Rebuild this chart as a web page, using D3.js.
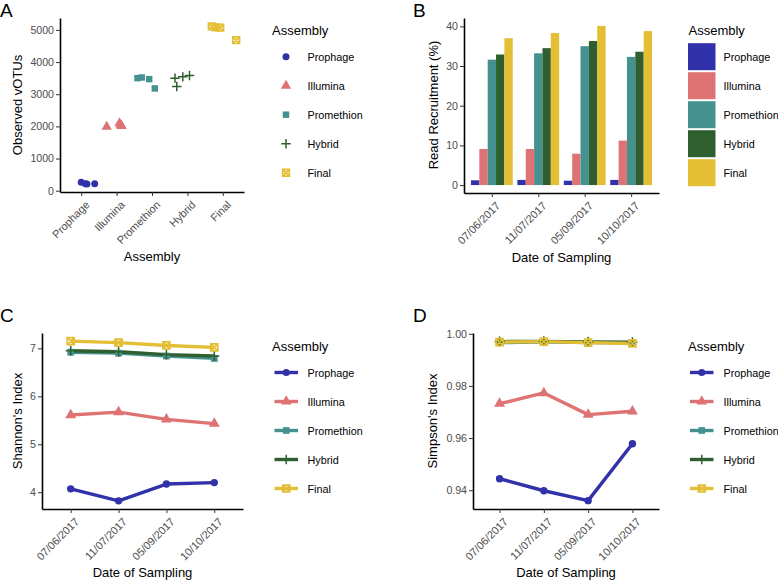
<!DOCTYPE html>
<html lang="en">
<head>
<meta charset="utf-8">
<title>Assembly comparison</title>
<script src="https://d3js.org/d3.v7.min.js"></script>
<style>
    body { margin: 0; background: #fff; }
    text { font-family: "Liberation Sans", Arial, Helvetica, sans-serif; }
</style>
</head>
<body>
<script>
// ---- data ----
var assemblies = ["Prophage", "Illumina", "Promethion", "Hybrid", "Final"];
var colours = ["#3131a9", "#df7373", "#45918f", "#2f5f2f", "#e4be35"];
var dates = ["07/06/2017", "11/07/2017", "05/09/2017", "10/10/2017"];

// A: observed vOTUs, 4 samples per assembly (+ horizontal jitter as drawn)
var votus = [
    [260, 215, 210, 220],
    [1990, 2100, 2040, 2010],
    [3500, 3520, 3470, 3180],
    [3500, 3240, 3540, 3580],
    [5110, 5080, 5070, 4680]
];
var votusJitter = [
    [0.0, 0.12, 0.16, 0.38],
    [-0.28, 0.08, 0.12, 0.14],
    [-0.41, -0.29, -0.08, 0.08],
    [-0.35, -0.30, -0.13, 0.06],
    [-0.31, -0.20, -0.07, 0.38]
];
// B: read recruitment (%) per assembly, one value per date
var recruitment = [
    [1.2, 1.3, 1.1, 1.3],
    [9.1, 9.1, 7.9, 11.2],
    [31.6, 33.2, 35.0, 32.3],
    [32.9, 34.5, 36.3, 33.6],
    [37.0, 38.3, 40.1, 38.8]
];
// C: Shannon's index
var shannon = [
    [4.07, 3.82, 4.17, 4.20],
    [5.61, 5.67, 5.52, 5.43],
    [6.92, 6.90, 6.84, 6.79],
    [6.95, 6.93, 6.87, 6.84],
    [7.15, 7.12, 7.06, 7.02]
];
// D: Simpson's index
var simpson = [
    [0.9444, 0.9398, 0.9360, 0.9578],
    [0.9732, 0.9773, 0.9690, 0.9703],
    [0.9966, 0.9969, 0.9966, 0.9965],
    [0.9970, 0.9971, 0.9969, 0.9968],
    [0.9968, 0.9970, 0.9966, 0.9963]
];

var w = 778, h = 580;
var svg = d3.select("body").append("svg")
    .attr("width", w).attr("height", h);

// ---- symbols ----
function symbolPath(k, s) {
    // s = half size
    if (k == 0) return d3.symbol(d3.symbolCircle, Math.PI * s * s)();
    if (k == 1) return d3.symbol(d3.symbolTriangle, 2.0 * s * s * 1.9)();
    if (k == 2) return d3.symbol(d3.symbolSquare, 4 * s * s * 0.85)();
    if (k == 3) { var p = s * 1.35; return "M" + (-p) + ",0H" + p + "M0," + (-p) + "V" + p; }
    var q = s * 0.95;
    return "M" + (-q) + "," + (-q) + "H" + q + "V" + q + "H" + (-q) + "Z" +
           "M" + (-q) + "," + (-q) + "L" + q + "," + q + "M" + q + "," + (-q) + "L" + (-q) + "," + q;
}
function drawSymbol(g, k, x, y, s) {
    var p = g.append("path").attr("d", symbolPath(k, s))
        .attr("transform", "translate(" + x + "," + y + ")");
    if (k >= 3) {
        p.attr("fill", "none").attr("stroke", colours[k]).attr("stroke-width", k == 3 ? 1.5 : 1.7);
    } else {
        p.attr("fill", colours[k]);
    }
}

// ---- axes in ggplot classic look ----
function drawAxes(x, y, yTicks, yFmt) {
    var r = y.range();
    var gx = svg.append("g").attr("transform", "translate(0," + r[0] + ")")
        .call(d3.axisBottom(x).tickSize(4).tickSizeOuter(0).tickPadding(2));
    var gy = svg.append("g").attr("transform", "translate(" + x.range()[0] + ",0)")
        .call(d3.axisLeft(y).tickValues(yTicks).tickFormat(yFmt).tickSize(4).tickSizeOuter(0).tickPadding(2));
    [gx, gy].forEach(function(g) {
        g.select(".domain").attr("stroke", "#000").attr("stroke-width", 1.6);
        g.selectAll(".tick line").attr("stroke", "#333").attr("stroke-width", 1);
        g.selectAll(".tick text").attr("fill", "#4d4d4d").style("font-size", "10.6px");
    });
    gx.selectAll(".tick text")
        .attr("y", 0).attr("dy", "0.71em")
        .attr("transform", "translate(3,8) rotate(-45)")
        .style("font-size", "10.9px")
        .style("text-anchor", "end");
}

function axisTitles(xt, xc, xb, yt, yx, yc) {
    svg.append("text").attr("x", xc).attr("y", xb).attr("text-anchor", "middle")
        .style("font-size", "13px").text(xt);
    svg.append("text").attr("transform", "translate(" + yx + "," + yc + ") rotate(-90)")
        .attr("text-anchor", "middle").style("font-size", "13px").text(yt);
}

function panelLabel(t, x, y) {
    svg.append("text").attr("x", x).attr("y", y).style("font-size", "19px").text(t);
}

// legend: type "point", "bar" or "line"
function legend(type, tx, ty, kx, ky, lx) {
    var g = svg.append("g");
    g.append("text").attr("x", tx).attr("y", ty).style("font-size", "13px").text("Assembly");
    assemblies.forEach(function(a, k) {
        var cy = ky + k * 29;
        if (type == "bar") {
            g.append("rect").attr("x", kx).attr("y", cy - 13.5).attr("width", 27.5).attr("height", 27)
                .attr("fill", colours[k]);
        } else if (type == "line") {
            g.append("line").attr("x1", kx).attr("x2", kx + 23.5).attr("y1", cy).attr("y2", cy)
                .attr("stroke", colours[k]).attr("stroke-width", 3.4);
            drawSymbol(g, k, kx + 11.75, cy, 3.6);
        } else {
            drawSymbol(g, k, kx, cy, 3.5);
        }
        g.append("text").attr("x", lx).attr("y", cy + 4).style("font-size", "10.8px").text(a);
    });
}

// ================= A =================
var xA = d3.scalePoint().domain(assemblies).range([60, 244]).padding(0.6);
var yA = d3.scaleLinear().domain([-40, 5370]).range([192, 18]);
drawAxes(xA, yA, [0, 1000, 2000, 3000, 4000, 5000], d3.format("d"));
var gA = svg.append("g");
assemblies.forEach(function(a, k) {
    votus[k].forEach(function(v, i) {
        drawSymbol(gA, k, xA(a) + votusJitter[k][i] * xA.step(), yA(v), 3.5);
    });
});
axisTitles("Assembly", 152, 261, "Observed vOTUs", 22, 105);
panelLabel("A", 0, 17);
legend("point", 272, 34.5, 286, 56.7, 307.5);

// ================= B =================
var xB = d3.scalePoint().domain(dates).range([464, 659]).padding(0.6);
var yB = d3.scaleLinear().domain([-2.0, 42.1]).range([193, 18]);
var xBar = d3.scaleBand().domain(assemblies).range([-0.45, 0.45]);
var gB = svg.append("g");
dates.forEach(function(dt, i) {
    gB.selectAll(null).data(assemblies).enter().append("rect")
        .attr("x", function(a) { return xB(dt) + xBar(a) * xB.step(); })
        .attr("width", xBar.bandwidth() * xB.step())
        .attr("y", function(a, k) { return yB(recruitment[k][i]); })
        .attr("height", function(a, k) { return yB(0) - yB(recruitment[k][i]); })
        .attr("fill", function(a, k) { return colours[k]; });
});
drawAxes(xB, yB, [0, 10, 20, 30, 40], d3.format("d"));
axisTitles("Date of Sampling", 561.5, 261.5, "Read Recruitment (%)", 437.5, 105);
panelLabel("B", 413, 17);
legend("bar", 688.5, 34.5, 688, 56.7, 723.5);

// ================= C & D =================
function linePanel(data, x, y, ticks, fmt) {
    var line = d3.line().x(function(d, i) { return x(dates[i]); }).y(function(d) { return y(d); });
    var g = svg.append("g");
    // all lines first, then points (as drawn in the figure)
    data.forEach(function(s, k) {
        g.append("path").attr("d", line(s)).attr("fill", "none")
            .attr("stroke", colours[k]).attr("stroke-width", 3.4).attr("stroke-linejoin", "round");
    });
    data.forEach(function(s, k) {
        s.forEach(function(v, i) { drawSymbol(g, k, x(dates[i]), y(v), 3.7); });
    });
    drawAxes(x, y, ticks, fmt);
}

var xC = d3.scalePoint().domain(dates).range([42, 243]).padding(0.6);
var yC = d3.scaleLinear().domain([3.65, 7.32]).range([509, 333]);
linePanel(shannon, xC, yC, [4, 5, 6, 7], d3.format("d"));
axisTitles("Date of Sampling", 142.5, 577, "Shannon's Index", 22, 421);
panelLabel("C", 0, 322);
legend("line", 272, 351, 274.5, 372.5, 307.5);

var xD = d3.scalePoint().domain(dates).range([473, 659]).padding(0.6);
var yD = d3.scaleLinear().domain([0.9328, 1.0003]).range([509, 333]);
linePanel(simpson, xD, yD, [0.94, 0.96, 0.98, 1.00], d3.format(".2f"));
axisTitles("Date of Sampling", 566, 577, "Simpson's Index", 437, 421);
panelLabel("D", 413, 322);
legend("line", 688, 351, 690, 372.5, 723.5);
</script>
</body>
</html>
